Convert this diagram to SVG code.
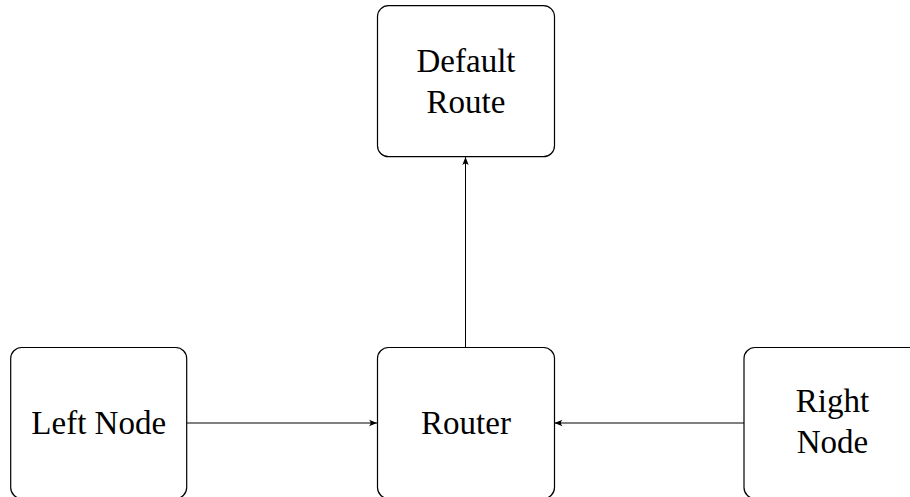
<svg xmlns="http://www.w3.org/2000/svg" width="910" height="497" viewBox="0 0 910 497">
<defs>
<marker id="ah" viewBox="0 0 10 10" refX="10" refY="5" markerWidth="8" markerHeight="8" markerUnits="userSpaceOnUse" orient="auto">
<path d="M0,1 Q4,5 0,9 L10,5 Z" fill="#000"/>
</marker>
<style>
.box{fill:#fff;stroke:#000;stroke-width:1.2}
.t{font-family:"Liberation Serif","DejaVu Serif",serif;font-size:33px;fill:#000;text-anchor:middle}
.c{stroke:#000;stroke-width:1;fill:none;marker-end:url(#ah)}
</style>
</defs>
<rect width="910" height="497" fill="#fff"/>
<g id="connectors">
<line class="c" x1="187" y1="423" x2="377" y2="423"/>
<line class="c" x1="744" y1="423" x2="554.5" y2="423"/>
<line class="c" x1="465.5" y1="348" x2="465.5" y2="157"/>
</g>
<g id="default-route">
<rect class="box" x="377.5" y="5.7" width="177" height="151" rx="11"/>
<text class="t" x="466" y="72">Default</text>
<text class="t" x="466" y="113">Route</text>
</g>
<g id="left-node">
<rect class="box" x="10.7" y="347.5" width="176" height="151" rx="11"/>
<text class="t" x="98.7" y="433.5">Left Node</text>
</g>
<g id="router">
<rect class="box" x="377.5" y="347.5" width="177" height="151" rx="11"/>
<text class="t" x="466" y="434">Router</text>
</g>
<g id="right-node">
<rect class="box" x="744" y="347.5" width="177" height="151" rx="11"/>
<text class="t" x="832.5" y="412">Right</text>
<text class="t" x="832.5" y="453">Node</text>
</g>
</svg>
